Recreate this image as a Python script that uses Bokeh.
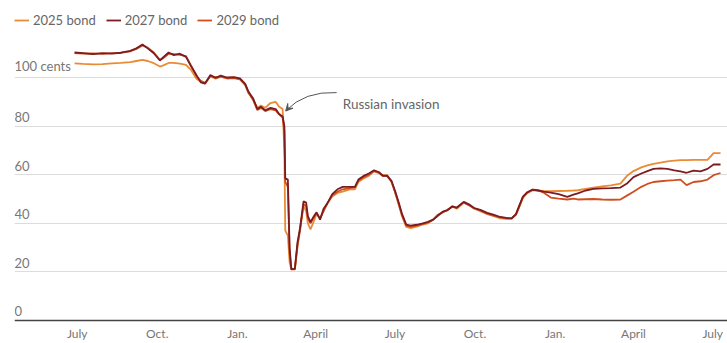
import pandas as pd
from bokeh.plotting import figure
from bokeh.models import (ColumnDataSource, FixedTicker, Legend, LegendItem, Arrow, VeeHead,
                          Range1d, Grid, Span)
from bokeh.core.properties import value
from bokeh.embed import file_html
from bokeh.resources import INLINE

# ---------------- data ----------------
dates = [
    "2021-06-28", "2021-07-08", "2021-07-19", "2021-07-30", "2021-08-10", "2021-08-20",
    "2021-08-31", "2021-09-07", "2021-09-14", "2021-09-20", "2021-09-27", "2021-10-04",
    "2021-10-08", "2021-10-14", "2021-10-20", "2021-10-27", "2021-11-03", "2021-11-09",
    "2021-11-15", "2021-11-20", "2021-11-25", "2021-12-01", "2021-12-07", "2021-12-13",
    "2021-12-20", "2021-12-28", "2022-01-04", "2022-01-10", "2022-01-14", "2022-01-19",
    "2022-01-24", "2022-01-28", "2022-02-02", "2022-02-08", "2022-02-14", "2022-02-18",
    "2022-02-22", "2022-02-24", "2022-02-25", "2022-02-28", "2022-03-02", "2022-03-04",
    "2022-03-08", "2022-03-11", "2022-03-14", "2022-03-18", "2022-03-21", "2022-03-23",
    "2022-03-26", "2022-03-30", "2022-04-02", "2022-04-06", "2022-04-10", "2022-04-14",
    "2022-04-20", "2022-04-26", "2022-05-02", "2022-05-10", "2022-05-16", "2022-05-20",
    "2022-05-26", "2022-06-01", "2022-06-07", "2022-06-13", "2022-06-17", "2022-06-22",
    "2022-06-27", "2022-07-01", "2022-07-05", "2022-07-09", "2022-07-14", "2022-07-19",
    "2022-07-26", "2022-08-02", "2022-08-08", "2022-08-14", "2022-08-19", "2022-08-25",
    "2022-08-30", "2022-09-05", "2022-09-10", "2022-09-18", "2022-09-24", "2022-09-30",
    "2022-10-07", "2022-10-15", "2022-10-22", "2022-10-30", "2022-11-06", "2022-11-12",
    "2022-11-17", "2022-11-21", "2022-11-25", "2022-11-30", "2022-12-06", "2022-12-12",
    "2022-12-19", "2022-12-27", "2023-01-05", "2023-01-15", "2023-01-22", "2023-01-27",
    "2023-02-05", "2023-02-14", "2023-02-24", "2023-03-06", "2023-03-17", "2023-03-25",
    "2023-04-01", "2023-04-10", "2023-04-17", "2023-04-24", "2023-05-02", "2023-05-10",
    "2023-05-18", "2023-05-25", "2023-06-01", "2023-06-09", "2023-06-17", "2023-06-25",
    "2023-07-02", "2023-07-10",
]
bond_2025 = [
    105.8, 105.6, 105.4, 105.5, 105.8, 106.0, 106.3, 106.8, 107.3, 106.8, 105.9, 104.5,
    105.0, 106.0, 106.0, 105.7, 105.2, 103.0, 99.5, 98.2, 97.5, 100.5, 99.5, 100.3,
    99.6, 100.0, 99.3, 97.0, 93.5, 91.0, 87.5, 88.5, 87.5, 89.5, 90.0, 88.0,
    87.0, 70.0, 37.0, 35.0, 24.0, 21.0, 21.0, 30.0, 38.0, 47.0, 45.0, 40.0,
    37.5, 41.0, 44.0, 42.0, 45.0, 48.0, 51.0, 52.5, 53.0, 54.0, 54.0, 57.0,
    58.5, 59.5, 61.5, 60.5, 59.5, 59.8, 57.0, 53.0, 48.0, 43.0, 38.5, 38.0,
    38.6, 39.5, 40.0, 41.5, 43.5, 44.5, 45.5, 47.0, 46.0, 48.5, 47.5, 46.0,
    45.0, 43.8, 43.0, 42.0, 41.8, 41.8, 43.5, 47.0, 50.5, 52.5, 53.8, 53.7,
    53.2, 53.2, 53.3, 53.4, 53.5, 53.6, 54.2, 54.7, 55.2, 55.6, 56.3, 59.7,
    61.5, 63.0, 63.8, 64.5, 65.0, 65.5, 65.8, 66.0, 66.0, 66.1, 66.1, 66.1,
    68.9, 68.9,
]
bond_2027 = [
    110.3, 110.0, 109.6, 110.0, 109.8, 110.2, 111.0, 112.0, 113.6, 112.0, 110.0, 107.0,
    108.4, 110.3, 109.2, 109.8, 108.5, 104.5, 101.0, 98.0, 97.5, 101.0, 99.8, 100.8,
    100.0, 100.2, 99.6, 97.4, 94.0, 91.5, 87.0, 88.0, 86.5, 87.5, 87.0, 85.0,
    84.0, 80.0, 58.5, 58.0, 30.0, 21.0, 21.2, 32.0, 38.0, 49.0, 48.5, 43.0,
    40.5, 43.0, 44.5, 41.5, 46.0, 48.0, 52.0, 54.0, 55.0, 55.0, 55.0, 58.0,
    59.5, 60.5, 61.8, 61.0, 59.5, 59.6, 57.5, 53.5, 49.0, 44.0, 39.5, 39.0,
    39.4, 40.0, 40.6, 41.5, 43.0, 44.8, 45.3, 47.0, 46.5, 48.8, 47.8, 46.3,
    45.5, 44.3, 43.6, 42.6, 42.2, 42.0, 43.8, 47.5, 51.0, 52.8, 53.9, 53.5,
    53.0, 52.6, 52.0, 50.9, 51.8, 52.3, 53.5, 54.2, 54.4, 54.5, 54.7, 56.5,
    59.0, 60.5, 61.5, 62.4, 62.6, 62.4, 61.8, 61.4, 60.8, 61.7, 61.4, 62.4,
    64.2, 64.2,
]
bond_2029 = [
    110.0, 109.8, 109.9, 109.7, 110.0, 110.1, 110.8, 111.8, 113.2, 112.3, 110.3, 107.3,
    108.0, 109.8, 109.6, 109.3, 108.8, 104.8, 100.5, 98.6, 97.8, 100.6, 100.2, 100.5,
    99.7, 99.8, 99.2, 97.0, 93.6, 90.8, 86.6, 87.5, 86.2, 87.0, 86.5, 84.8,
    83.5, 78.0, 57.0, 55.0, 28.0, 21.5, 21.0, 31.0, 37.0, 48.0, 47.0, 42.0,
    40.0, 42.5, 44.0, 42.0, 45.0, 48.0, 51.5, 53.0, 54.0, 54.5, 54.8, 57.5,
    59.0, 60.0, 61.5, 60.8, 59.8, 59.4, 57.2, 53.0, 48.5, 43.5, 39.0, 38.5,
    39.0, 39.8, 40.4, 41.6, 43.3, 44.6, 45.5, 46.8, 46.3, 48.6, 47.4, 46.2,
    45.3, 44.0, 43.2, 42.4, 42.0, 42.1, 43.6, 47.0, 50.8, 52.5, 53.6, 53.6,
    52.6, 50.6, 50.2, 49.8, 50.2, 49.8, 49.9, 50.0, 49.8, 49.7, 49.8, 51.5,
    53.0, 55.0, 56.2, 57.0, 57.3, 57.6, 57.8, 58.0, 55.7, 57.0, 57.3, 58.0,
    59.8, 60.7,
]
series_names = ["2025 bond", "2027 bond", "2029 bond"]
series_colors = ["#eb8a34", "#7a1c22", "#cf4f1f"]

tick_dates = ["2021-07-01", "2021-10-01", "2022-01-01", "2022-04-01", "2022-07-01",
              "2022-10-01", "2023-01-01", "2023-04-01", "2023-07-01"]
tick_labels = ["July", "Oct.", "Jan.", "April", "July", "Oct.", "Jan.", "April", "July"]
y_ticks = [0, 20, 40, 60, 80, 100]
y_tick_labels = ["0", "20", "40", "60", "80", "100 cents"]

annotation_text = "Russian invasion"
annotation_date = "2022-02-25"
annotation_value = 86.0

x_start, x_end = "2021-04-20", "2023-07-18"
y_start, y_end = -9.47, 131.7

# ---------------- plot ----------------
def ms(d):
    return pd.Timestamp(d).value / 1e6

FONT = "Lato"
W, H = 727, 343
p = figure(width=W, height=H, output_backend="svg", toolbar_location=None,
           x_axis_location=None, y_axis_location=None,
           x_range=Range1d(ms(x_start), ms(x_end)), y_range=Range1d(y_start, y_end),
           min_border_left=14, min_border_right=0, min_border_top=0, min_border_bottom=0)
p.outline_line_color = None
p.background_fill_color = "white"
p.border_fill_color = "white"
# drop default grids, add our own horizontal grid
p.center = [r for r in p.center if not isinstance(r, Grid)]
p.add_layout(Grid(dimension=1, ticker=FixedTicker(ticks=[t for t in y_ticks if t > 0]),
                  grid_line_color="#dcdcdc", grid_line_width=1))
# baseline (zero) axis line
p.add_layout(Span(location=y_ticks[0], dimension="width", line_color="#444444", line_width=1.5))

xs = [ms(d) for d in dates]
src = ColumnDataSource(dict(x=xs, b25=bond_2025, b27=bond_2027, b29=bond_2029))
r25 = p.line("x", "b25", source=src, color=series_colors[0], line_width=1.8)
r29 = p.line("x", "b29", source=src, color=series_colors[2], line_width=1.8)
r27 = p.line("x", "b27", source=src, color=series_colors[1], line_width=1.8)

legend = Legend(items=[LegendItem(label=series_names[0], renderers=[r25]),
                       LegendItem(label=series_names[1], renderers=[r27]),
                       LegendItem(label=series_names[2], renderers=[r29])],
                orientation="horizontal", location=(0, H - 28),
                background_fill_alpha=0, border_line_color=None,
                label_text_font=FONT, label_text_font_size="13px", label_text_color="#666666",
                glyph_width=15, glyph_height=14, label_standoff=4, spacing=10,
                padding=0, margin=0)
p.add_layout(legend)

# x tick labels below the zero line
p.text(x=[ms(d) for d in tick_dates], y=[y_ticks[0]] * len(tick_dates), text=tick_labels,
       text_font=value(FONT), text_font_size="12px", text_color="#777777",
       text_baseline="middle", text_align="center", y_offset=13)

# y tick labels inside plot above gridlines
p.text(x=[ms(x_start)] * len(y_ticks), y=y_ticks, text=y_tick_labels,
       text_font=value(FONT), text_font_size="13px", text_color="#777777",
       text_baseline="bottom", text_align="left", y_offset=-4)

# annotation: curved arrow + label
ax0 = ms(annotation_date)
day = 86400000.0
p.quadratic(x0=[ax0 + 59 * day], y0=[annotation_value + 7.8],
            x1=[ax0 + 1 * day], y1=[annotation_value + 0.4],
            cx=[ax0 + 22 * day], cy=[annotation_value + 8.4],
            line_color="#555555", line_width=1)
p.add_layout(Arrow(end=VeeHead(size=7, line_color="#555555", fill_color="#555555", line_width=1),
                   x_start=ax0 + 4 * day, y_start=annotation_value + 1.6,
                   x_end=ax0 + 0.5 * day, y_end=annotation_value + 0.2,
                   line_color="#555555", line_width=1))
p.text(x=[ax0 + 66 * day], y=[annotation_value + 3.3], text=[annotation_text],
       text_font=value(FONT), text_font_size="13.5px", text_color="#666666",
       text_baseline="middle", text_align="left")

open("out.html", "w").write(file_html(p, INLINE))
